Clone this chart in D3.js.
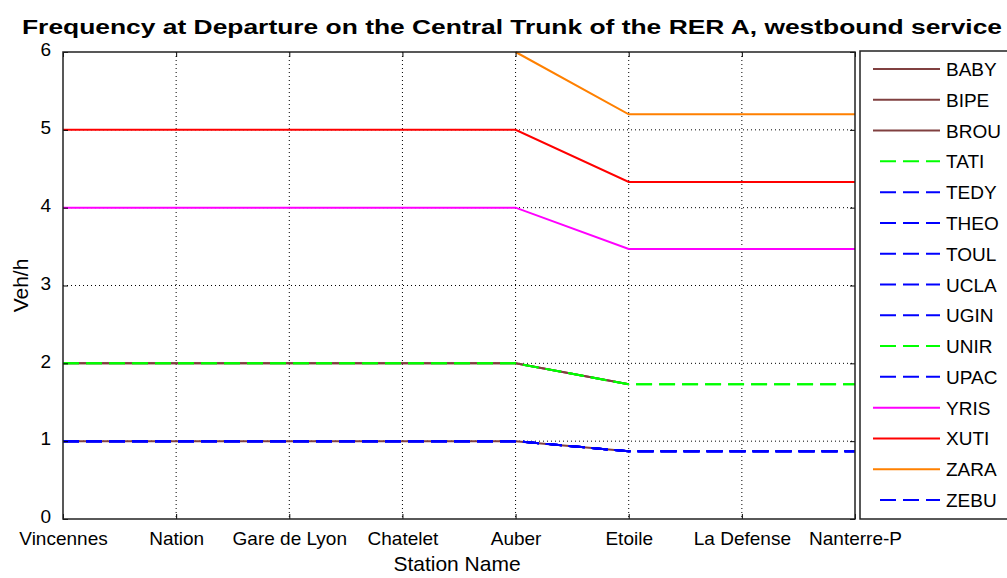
<!DOCTYPE html>
<html>
<head>
<meta charset="utf-8">
<script src="https://cdn.jsdelivr.net/npm/d3@7"></script>
<style>
  body { margin: 0; background: #fff; }
  text { font-family: "Liberation Sans", Arial, sans-serif; fill: #000; }
</style>
</head>
<body>
<div id="container"></div>
<script>
/**
 * DATA
 * */
const stations = ["Vincennes", "Nation", "Gare de Lyon", "Chatelet", "Auber", "Etoile", "La Defense", "Nanterre-P"];
const yTicks = [0, 1, 2, 3, 4, 5, 6];

const seriesNames = ["BABY", "BIPE", "BROU", "TATI", "TEDY", "THEO", "TOUL", "UCLA", "UGIN", "UNIR", "UPAC", "YRIS", "XUTI", "ZARA", "ZEBU"];

const BABY = [2, 2, 2, 2, 2, 1.73, null, null];
const BIPE = [1, 1, 1, 1, 1, 0.87, null, null];
const BROU = [2, 2, 2, 2, 2, 1.73, null, null];
const TATI = [2, 2, 2, 2, 2, 1.73, 1.73, 1.73];
const TEDY = [1, 1, 1, 1, 1, 0.87, 0.87, 0.87];
const THEO = [1, 1, 1, 1, 1, 0.87, 0.87, 0.87];
const TOUL = [1, 1, 1, 1, 1, 0.87, 0.87, 0.87];
const UCLA = [1, 1, 1, 1, 1, 0.87, 0.87, 0.87];
const UGIN = [1, 1, 1, 1, 1, 0.87, 0.87, 0.87];
const UNIR = [2, 2, 2, 2, 2, 1.73, 1.73, 1.73];
const UPAC = [1, 1, 1, 1, 1, 0.87, 0.87, 0.87];
const YRIS = [4, 4, 4, 4, 4, 3.47, 3.47, 3.47];
const XUTI = [5, 5, 5, 5, 5, 4.33, 4.33, 4.33];
const ZARA = [null, null, null, null, 6, 5.2, 5.2, 5.2];
const ZEBU = [1, 1, 1, 1, 1, 0.87, 0.87, 0.87];

const seriesValues = [BABY, BIPE, BROU, TATI, TEDY, THEO, TOUL, UCLA, UGIN, UNIR, UPAC, YRIS, XUTI, ZARA, ZEBU];
const seriesColors = ["#804040", "#804040", "#804040", "#00ff00", "#0000ff", "#0000ff", "#0000ff", "#0000ff", "#0000ff", "#00ff00", "#0000ff", "#ff00ff", "#ff0000", "#ff8000", "#0000ff"];
const seriesDashed = [false, false, false, true, true, true, true, true, true, true, true, false, false, false, true];

/**
 * CONSTANTS
 * */
const width = 1007, height = 578;
const plot = { left: 63, right: 855, top: 52, bottom: 519 };

const svg = d3.select("#container")
  .append("svg")
  .attr("width", width)
  .attr("height", height);

const x = d3.scalePoint().domain(stations).range([plot.left, plot.right]);
const y = d3.scaleLinear().domain([0, 6]).range([plot.bottom, plot.top]);

// grid
svg.append("g")
  .selectAll("line")
  .data(stations.slice(1, -1))
  .join("line")
  .attr("x1", d => x(d)).attr("x2", d => x(d))
  .attr("y1", plot.top).attr("y2", plot.bottom)
  .attr("stroke", "#000").attr("stroke-width", 1)
  .attr("stroke-dasharray", "1,3");

svg.append("g")
  .selectAll("line")
  .data(yTicks.slice(1, -1))
  .join("line")
  .attr("x1", plot.left).attr("x2", plot.right)
  .attr("y1", d => y(d)).attr("y2", d => y(d))
  .attr("stroke", "#000").attr("stroke-width", 1)
  .attr("stroke-dasharray", "1,3");

// lines
const line = d3.line()
  .defined(d => d.v != null)
  .x(d => x(d.s))
  .y(d => y(d.v));

seriesNames.forEach((name, i) => {
  const pts = seriesValues[i].map((v, j) => ({ s: stations[j], v: v }));
  svg.append("path")
    .datum(pts)
    .attr("fill", "none")
    .attr("stroke", seriesColors[i])
    .attr("stroke-width", 2)
    .attr("stroke-dasharray", seriesDashed[i] ? "16,7" : null)
    .attr("d", line);
});

// axes (box with inward ticks)
const axisStyle = g => {
  g.select(".domain").remove();
  g.selectAll(".tick line").attr("stroke", "#000");
  g.selectAll("text").style("font-family", "Liberation Sans, Arial, sans-serif").style("font-size", "19px").attr("fill", "#000");
};

svg.append("g")
  .attr("transform", `translate(0,${plot.bottom})`)
  .call(d3.axisBottom(x).tickSizeInner(-5).tickSizeOuter(0).tickPadding(13))
  .call(axisStyle);

svg.append("g")
  .attr("transform", `translate(0,${plot.top})`)
  .call(d3.axisTop(x).tickSizeInner(-5).tickSizeOuter(0).tickFormat(""))
  .call(axisStyle);

svg.append("g")
  .attr("transform", `translate(${plot.left},0)`)
  .call(d3.axisLeft(y).tickValues(yTicks).tickFormat(d3.format("d")).tickSizeInner(-5).tickSizeOuter(0).tickPadding(12))
  .call(axisStyle)
  .call(g => g.selectAll("text").attr("dy", "0.2em"));

svg.append("g")
  .attr("transform", `translate(${plot.right},0)`)
  .call(d3.axisRight(y).tickValues(yTicks).tickSizeInner(-5).tickSizeOuter(0).tickFormat(""))
  .call(axisStyle);

svg.append("rect")
  .attr("x", plot.left).attr("y", plot.top)
  .attr("width", plot.right - plot.left).attr("height", plot.bottom - plot.top)
  .attr("fill", "none").attr("stroke", "#222").attr("stroke-width", 1.5);

// title and axis labels
svg.append("text")
  .attr("x", 512).attr("y", 34)
  .attr("text-anchor", "middle")
  .attr("textLength", 980)
  .attr("lengthAdjust", "spacingAndGlyphs")
  .style("font-size", "20px").style("font-weight", "bold")
  .text("Frequency at Departure on the Central Trunk of the RER A, westbound service");

svg.append("text")
  .attr("x", 457).attr("y", 571)
  .attr("text-anchor", "middle")
  .style("font-size", "21px")
  .text("Station Name");

svg.append("text")
  .attr("transform", `translate(28,${(plot.top + plot.bottom) / 2}) rotate(-90)`)
  .attr("text-anchor", "middle")
  .style("font-size", "21px")
  .text("Veh/h");

// legend
const legend = svg.append("g");
legend.append("rect")
  .attr("x", 860).attr("y", 51)
  .attr("width", 170).attr("height", 468)
  .attr("fill", "#fff").attr("stroke", "#222").attr("stroke-width", 1.5);

const ly = d3.scalePoint().domain(seriesNames).range([69, 500]);

seriesNames.forEach((name, i) => {
  const yy = ly(name);
  legend.append("line")
    .attr("x1", seriesDashed[i] ? 880 : 873).attr("x2", 940)
    .attr("y1", yy).attr("y2", yy)
    .attr("stroke", seriesColors[i]).attr("stroke-width", 2)
    .attr("stroke-dasharray", seriesDashed[i] ? "16,7" : null);
  legend.append("text")
    .attr("x", 946).attr("y", yy + 7)
    .style("font-size", "19px")
    .text(name);
});
</script>
</body>
</html>
